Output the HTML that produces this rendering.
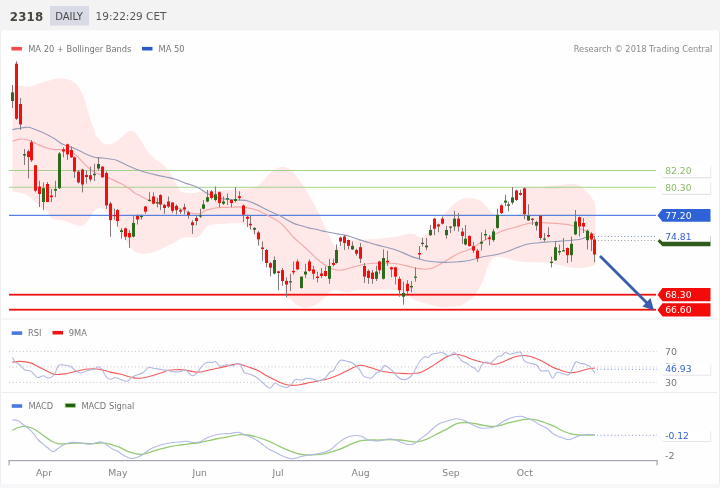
<!DOCTYPE html>
<html><head><meta charset="utf-8"><title>2318 Daily</title>
<style>html,body{margin:0;padding:0;background:#fff;overflow:hidden}svg{display:block;will-change:transform}</style>
</head><body>
<svg width="720" height="488" viewBox="0 0 720 488"><rect x="0" y="0" width="720" height="488" fill="#fefefe"/>
<rect x="0" y="0" width="720" height="30.5" fill="#f3f3f3"/>
<rect x="0" y="30.5" width="1.1" height="457.5" fill="#eeeef0"/>
<rect x="719" y="30.5" width="1" height="457.5" fill="#ececee"/>
<rect x="0" y="484" width="720" height="4" fill="#f7f7f9"/>
<rect x="1.5" y="318.5" width="716" height="1" fill="#ececec"/>
<rect x="1.5" y="392" width="716" height="1" fill="#ececec"/>
<path d="M12.4,86.5 C13.7,86.4 17.2,86 20.2,86 C23.2,86 27.8,86.7 30.5,86.4 C33.2,86.1 33.9,85.2 36.6,84.3 C39.3,83.4 43.5,82.2 46.9,81.3 C50.3,80.3 53.7,78.9 57.1,78.6 C60.5,78.2 64.3,78.4 67.4,79.2 C70.5,80 73.2,81.1 75.6,83.3 C78,85.5 79.8,88.6 81.7,92.5 C83.6,96.4 85.2,102.1 86.8,106.9 C88.3,111.7 89.7,117.4 91,121.2 C92.3,125 93.6,127.6 94.4,130 C95.2,132.4 95.3,134.2 96,135.6 C96.7,137 97.8,137.6 98.7,138.6 C99.6,139.6 100,140.8 101.2,141.7 C102.4,142.6 104.4,143.9 105.9,144.3 C107.4,144.7 108.3,144.4 110,144 C111.7,143.6 113.8,143.2 116,141.8 C118.2,140.4 121.1,137.3 123.1,135.6 C125.1,133.9 126.6,132.6 128,131.8 C129.4,131.1 130.2,131 131.3,131.1 C132.4,131.2 133.2,131.2 134.6,132.3 C136,133.5 137.9,135.7 139.5,138 C141.1,140.3 142.8,143.6 144.4,146.2 C146,148.8 147.7,151.5 149.3,153.6 C151,155.7 152.7,157.1 154.3,158.5 C156,159.9 157.6,160.6 159.2,161.8 C160.8,163 162.7,164.7 164.1,165.9 C165.5,167.1 166.3,167.8 167.4,169.2 C168.5,170.6 169.3,171.9 170.7,174.1 C172.1,176.3 174.2,179.8 175.6,182.3 C177,184.8 177.8,187.3 178.9,188.9 C180,190.5 180.5,191.4 182.1,192.1 C183.7,192.8 186.5,192.8 188.7,193 C190.9,193.2 193.6,193.2 195.2,193 C196.8,192.8 196.3,192.1 198.2,191.8 C200.1,191.5 202.3,191.3 206.4,191 C210.5,190.7 217.3,190.5 222.8,190.2 C228.3,189.9 235.1,189.5 239.2,189.3 C243.3,189.1 244.9,189.3 247.4,189 C249.9,188.7 252.1,188 254,187.4 C255.9,186.8 257.3,186.4 258.9,185.2 C260.5,184 262.2,182.1 263.8,180.3 C265.4,178.5 267.1,176.2 268.7,174.6 C270.3,173 272,171.7 273.6,170.5 C275.2,169.3 276.9,168.3 278.5,167.7 C280.1,167.1 281.3,166.7 282.9,166.8 C284.5,166.9 286.5,167.5 288,168.2 C289.5,168.9 290.2,169 292.1,171 C294,173 297.1,176.9 299.5,180.3 C301.9,183.7 304.4,187.3 306.8,191.3 C309.2,195.3 312.1,200.2 314.2,204.2 C316.3,208.2 317.9,211.2 319.7,215.2 C321.5,219.2 323.3,224.1 325.2,228.1 C327.1,232.1 329.2,236 330.8,239.2 C332.4,242.3 333.5,245.5 334.5,247 C335.5,248.5 336.2,248.1 337,248 C337.8,247.9 338.2,247.3 339,246.5 C339.8,245.7 340.2,244.1 342,243 C343.8,241.9 345.3,240.6 350,240 C354.7,239.4 365,239.5 370,239.2 C375,238.9 376.5,238.7 379.8,238.4 C383.1,238.1 386.4,237.9 389.7,237.5 C393,237.1 396.5,236.5 399.5,235.9 C402.5,235.3 405.2,234.2 407.7,233.9 C410.2,233.6 412.4,233.8 414.3,234.3 C416.2,234.8 417.6,236.4 419.2,236.7 C420.8,237 422.2,237.1 424.1,235.9 C426,234.7 428.8,231.5 430.7,229.3 C432.6,227.1 434,224.7 435.6,222.8 C437.2,220.9 438.9,219.5 440.5,217.9 C442.1,216.3 443.8,214.7 445.4,213 C447,211.3 448.7,209.7 450.3,208 C451.9,206.3 453.6,204.5 455.2,203.1 C456.8,201.7 458.4,200.6 460.2,199.8 C462,199 463.9,198.6 465.8,198.3 C467.7,198 469.4,197.7 471.7,198 C474,198.3 477.2,199.1 479.5,200.3 C481.8,201.5 483.4,203.2 485.3,205.2 C487.2,207.1 489.5,210.4 491.1,212 C492.7,213.6 493.5,213.9 495,214.5 C496.5,215.1 496.7,215.3 500,215.5 C503.3,215.7 511.7,216.1 515,215.5 C518.3,214.9 518.8,216.2 520,212 C521.2,207.8 521.2,194.1 522,190 C522.8,185.9 522,188 525,187.5 C528,187 535.4,187.2 540,186.9 C544.6,186.6 548.3,186 552.5,185.6 C556.7,185.2 561.9,184.7 565,184.4 C568.1,184.1 569.2,183.7 571.3,183.8 C573.4,183.9 575.6,184.2 577.5,184.8 C579.4,185.4 580.8,186.2 582.5,187.5 C584.2,188.8 586,190.9 587.5,192.5 C589,194.1 590,195 591.3,196.9 C592.5,198.8 594.3,201.6 595,203.8 C595.7,206 595.5,209 595.6,210 L595.6,262 C595.4,262.6 596.5,264.6 594.4,265.6 C592.3,266.6 587,267.4 583.3,267.8 C579.6,268.2 575.9,268.2 572.2,267.8 C568.5,267.4 564.8,266.4 561.1,265.6 C557.4,264.8 553.7,263.6 550,263 C546.3,262.4 542.6,262.3 538.9,262.2 C535.2,262.1 531.5,262.4 527.8,262.2 C524.1,262 520.4,261.8 516.7,261.1 C513,260.4 508.9,258.5 505.6,257.8 C502.3,257.1 498.9,256.5 496.7,256.7 C494.5,256.9 493.7,257.2 492.2,258.9 C490.7,260.6 489.3,263.2 487.8,266.7 C486.3,270.2 484.8,276.3 483.3,280 C481.8,283.7 480.8,285.9 478.9,288.9 C477,291.9 474.8,295.2 472.2,297.8 C469.6,300.4 465.3,303 463.3,304.4 C461.3,305.8 462.2,305.6 460,306 C457.8,306.4 452.8,306.4 450,306.7 C447.2,306.9 446.4,307.8 443.3,307.5 C440.2,307.2 436.4,306.2 431.7,305 C427,303.8 419.2,301.7 415,300 C410.8,298.3 409.5,296.5 406.7,295 C403.9,293.5 400.8,291.9 398,291 C395.2,290.1 394.1,289.9 390,289.7 C385.9,289.5 378.9,289.9 373.3,290 C367.8,290.1 360.6,289.7 356.7,290 C352.8,290.3 352.1,291.7 350,292 C347.9,292.3 345.7,292.2 343.8,292 C341.9,291.8 340.5,291.1 338.9,290.8 C337.3,290.5 335.6,289.7 334,290.1 C332.4,290.5 330.6,291.9 329,293.2 C327.4,294.5 325.7,296.6 324.1,298.1 C322.5,299.6 320.8,301.2 319.2,302.4 C317.6,303.6 316.1,304.7 314.3,305.5 C312.5,306.3 310.2,307.1 308.1,307.4 C306.1,307.7 304.1,307.9 302,307.4 C299.9,306.9 297.7,305.6 295.8,304.3 C293.9,303 292.5,300.8 290.9,299.4 C289.3,298 287.5,299.9 286,295.7 C284.5,291.5 283.7,277.9 282,274 C280.3,270.1 277.7,272.5 276,272 C274.3,271.5 273.1,271.7 272,271 C270.9,270.3 270.3,269.6 269.2,268 C268.1,266.4 266.5,264 265.5,261.7 C264.5,259.4 263.8,256.9 263,254.4 C262.2,252 261.6,249.5 260.6,247 C259.6,244.5 258.1,241.8 256.9,239.6 C255.7,237.3 254.4,235.3 253.2,233.5 C252,231.7 250.7,229.8 249.5,228.5 C248.3,227.2 247.2,226.3 245.8,225.5 C244.4,224.7 242.5,224 240.9,223.6 C239.3,223.2 237.5,223.1 236,223 C234.5,222.9 233.8,223.2 231.7,223.3 C229.6,223.4 226.1,223.7 223.3,223.8 C220.5,224 217.1,224 215,224.2 C212.9,224.4 212.2,224.6 210.8,225 C209.4,225.4 208.1,225.4 206.7,226.7 C205.3,227.9 203.9,230.8 202.5,232.5 C201.1,234.2 199.8,236.2 198,237 C196.2,237.8 193.8,237.2 191.8,237.3 C189.8,237.4 188,237.4 186.1,237.6 C184.2,237.8 182.2,237.9 180.3,238.7 C178.4,239.5 176.5,241.2 174.6,242.3 C172.7,243.4 170.8,244.2 168.9,245.2 C167,246.1 164.9,247.1 163.1,248 C161.3,248.9 159.7,249.8 158,250.5 C156.3,251.2 154.7,252 153,252.5 C151.3,253 149.7,253.3 148,253.6 C146.3,253.8 144.7,254.1 143,254 C141.3,253.9 139.8,253.8 138,253 C136.2,252.2 133.9,251.3 131.9,249.2 C129.9,247.1 127.8,243.6 125.8,240.6 C123.8,237.6 121.9,234.1 120,231 C118.1,227.9 116,224.4 114.3,222 C112.6,219.6 111.2,218.1 110,216.5 C108.8,214.9 108.1,213.8 107,212.6 C105.9,211.4 104.7,210.1 103.5,209.3 C102.3,208.5 101.2,208 100,207.9 C98.8,207.8 97.7,208.3 96.5,209 C95.3,209.7 94.1,210.9 93,212.3 C91.9,213.7 91.1,215.5 89.9,217.4 C88.7,219.3 87.5,222.1 85.8,223.5 C84.1,224.9 82.1,226 79.7,226 C77.3,226 74.2,224.4 71.5,223.5 C68.8,222.6 66,221.2 63.3,220.5 C60.5,219.8 57,219.9 55,219.4 C53,218.9 52.4,218.9 51,217.4 C49.6,215.9 48.6,211.9 46.9,210.2 C45.2,208.5 42.8,208.6 40.7,207.1 C38.7,205.6 36.7,202.9 34.6,201 C32.5,199.1 30.8,197.3 28.4,195.9 C26,194.5 22.9,193.5 20.2,192.8 C17.5,192.1 13.7,192 12.4,191.8 Z" fill="#ffe8e8"/>
<rect x="9" y="170" width="647" height="1" fill="#a6d38a"/>
<rect x="9" y="186.8" width="647" height="1" fill="#a6d38a"/>
<rect x="9" y="214.8" width="647" height="1.1" fill="#4474df"/>
<rect x="9" y="293.8" width="647" height="1.8" fill="#f01010"/>
<rect x="9" y="308.8" width="647" height="1.8" fill="#f01010"/>
<path d="M12.5,141.2 C13.7,140.8 17.7,139.4 19.7,139.1 C21.7,138.8 22.5,138.9 24.6,139.3 C26.7,139.7 29.9,140.7 32.3,141.7 C34.7,142.7 36.4,144 39.1,145.1 C41.9,146.2 46.4,147.8 48.8,148.5 C51.2,149.2 51.8,149.3 53.7,149.5 C55.7,149.7 58.7,149.4 60.5,149.5 C62.3,149.6 63.1,149.8 64.4,150 C65.8,150.2 66.9,150.2 68.6,150.8 C70.2,151.4 72.1,152 74.3,153.7 C76.5,155.4 79.1,158.4 81.5,160.8 C83.9,163.2 86.3,166 88.7,168 C91.1,170 93.5,171.8 95.9,173 C98.3,174.2 100.6,174.5 103,175.4 C105.4,176.3 107.3,177.3 110.2,178.6 C113.1,179.9 117.2,181.7 120.3,183.3 C123.4,184.9 126.2,186.6 128.6,188.2 C131,189.8 132.7,191.8 134.6,193 C136.5,194.2 137.8,194.5 140.2,195.7 C142.6,196.9 145.9,199.1 148.8,200.3 C151.7,201.6 154.1,202.2 157.4,203.2 C160.7,204.1 165,205.1 168.8,206 C172.6,206.9 176.5,207.7 180.3,208.9 C184.1,210.1 188.6,212.4 191.8,213.2 C195.1,214 197.4,214 199.8,213.5 C202.2,213 204.6,210.7 206.4,210 C208.2,209.3 209.4,209.5 210.8,209.2 C212.2,208.9 213,208.3 215,208 C217,207.7 220.1,207.5 222.8,207.4 C225.5,207.3 228.3,207.4 231,207.3 C233.7,207.2 236.5,206.8 239.2,206.9 C241.9,207 244.7,207.4 247.4,207.9 C250.1,208.4 252.9,208.8 255.6,209.7 C258.3,210.6 261.6,212.1 263.8,213.2 C266,214.2 266.4,214.6 268.8,216 C271.2,217.4 275.8,219.5 278.5,221.4 C281.2,223.3 283.9,226.3 285.3,227.7 C286.8,229.1 285.7,228.3 287.2,230 C288.7,231.7 291.9,235.6 294.3,238 C296.7,240.4 299.1,242.2 301.5,244.4 C303.9,246.6 306.3,248.6 308.7,250.9 C311.1,253.2 313.5,255.8 315.9,258 C318.3,260.1 320.9,262.2 323,263.8 C325.1,265.4 326.9,266.4 328.8,267.4 C330.7,268.3 332.6,269 334.5,269.5 C336.4,270 338.2,270.3 340.3,270.2 C342.4,270.1 345,269.4 347.4,268.8 C349.8,268.2 352.5,267.2 354.6,266.6 C356.7,266 356.9,265.8 360,265.2 C363.1,264.6 368.3,263.6 373.3,263.3 C378.3,263 385.6,263.1 390,263.3 C394.4,263.5 396.7,263.8 400,264.3 C403.3,264.9 406.9,265.9 409.7,266.6 C412.4,267.3 414.1,267.9 416.5,268.3 C418.9,268.7 421.6,269.2 424,269.2 C426.4,269.2 428.5,269.2 431,268.5 C433.5,267.8 435.9,266.6 438.8,265.1 C441.7,263.6 445.2,261.2 448.5,259.3 C451.8,257.4 454.7,255.1 458.3,253.4 C461.9,251.7 466.4,250.7 470,249 C473.6,247.3 476.2,245.3 480,243 C483.8,240.7 488.8,237.5 493,235.3 C497.2,233.1 501.3,231.3 505,230 C508.7,228.7 512.1,228.3 515,227.5 C517.9,226.7 520,225.7 522.5,225 C525,224.3 527.1,223.5 530,223.1 C532.9,222.7 536.7,222.5 540,222.5 C543.3,222.5 546.7,222.9 550,223.1 C553.3,223.3 556.7,223.5 560,223.8 C563.3,224.1 567.1,224.4 570,225 C572.9,225.6 575,226.6 577.5,227.5 C580,228.4 582.5,229.5 585,230.6 C587.5,231.7 590.8,233.2 592.5,233.8 C594.2,234.5 594.6,234.4 595,234.5" fill="none" stroke="#f6a9a9" stroke-width="1.15"/>
<path d="M12.4,129.6 C13.7,129.4 17.7,128.6 20,128.2 C22.3,127.8 24.3,127.5 26,127.4 C27.7,127.3 27.8,126.9 30,127.5 C32.2,128.1 36,129.7 39.1,131 C42.2,132.3 45.9,133.9 48.8,135.4 C51.7,136.9 54.2,138.7 56.6,140.2 C59,141.7 60.8,143.4 63.4,144.6 C66,145.8 69.3,146.4 72.1,147.5 C74.9,148.6 77.7,149.9 80,151 C82.3,152.1 83.4,153 85.8,154 C88.2,155 91.5,156.5 94.4,157.2 C97.3,157.9 100.4,157.7 103,158 C105.6,158.3 107.7,158.6 110,159 C112.3,159.4 113.9,159.2 116.6,160.2 C119.3,161.2 123.1,163.5 126.4,165 C129.7,166.5 132.9,167.9 136.2,169.2 C139.5,170.4 142.8,171.6 146.1,172.5 C149.4,173.4 152.6,174.2 155.9,174.9 C159.2,175.7 162.4,176.3 165.7,177 C169,177.7 172.3,178.3 175.6,179.3 C178.9,180.3 183,182.2 185.4,183.1 C187.8,184 187.9,183.7 190,184.5 C192.1,185.3 195.5,186.3 198.2,187.7 C200.9,189.1 203.7,191.5 206.4,193 C209.1,194.5 211.9,195.7 214.6,196.7 C217.3,197.7 220.1,198.4 222.8,198.9 C225.5,199.4 228.3,199.3 231,199.5 C233.7,199.7 236.5,199.8 239.2,200 C241.9,200.2 244.7,200.1 247.4,200.8 C250.1,201.5 252.9,202.9 255.6,204.1 C258.3,205.3 261.1,206.8 263.8,208.2 C266.5,209.6 269.3,211 272,212.3 C274.7,213.6 277.7,214.5 280.2,215.8 C282.7,217.1 284.8,218.7 287.2,220 C289.6,221.3 291.9,222.6 294.3,223.6 C296.7,224.6 299.1,225.1 301.5,225.8 C303.9,226.5 306.3,227.3 308.7,227.9 C311.1,228.5 313.5,228.8 315.9,229.3 C318.3,229.8 320.6,230.6 323,231.1 C325.4,231.6 327.8,232 330.2,232.5 C332.6,233 335,233.5 337.4,233.9 C339.8,234.3 342.6,234.7 344.6,235.1 C346.6,235.5 347,235.4 349.4,236.2 C351.8,236.9 355.9,238.5 359.1,239.6 C362.3,240.7 365.6,241.5 368.8,242.5 C372,243.5 375.2,244.5 378.5,245.4 C381.8,246.3 385.1,246.9 388.3,247.8 C391.6,248.7 394.5,249.4 398,250.7 C401.5,252 405.8,254.2 409.3,255.6 C412.8,257 415.9,257.9 419.2,258.9 C422.5,259.8 425.7,260.8 429,261.3 C432.3,261.8 435.6,261.9 438.9,262.1 C442.2,262.3 445.4,262.4 448.7,262.3 C452,262.2 454.9,262.2 458.5,261.8 C462.1,261.4 465.9,261.1 470,260.2 C474.1,259.3 478.9,257.6 483,256.7 C487.1,255.8 490.7,255.7 494.4,255 C498.1,254.3 501.3,253.5 505,252.3 C508.7,251.1 512.9,249.2 516.7,247.8 C520.5,246.4 524.1,244.8 527.8,244 C531.5,243.2 535.2,243.1 538.9,242.7 C542.6,242.3 546.3,242.1 550,241.8 C553.7,241.5 556.3,241.5 561.1,241.1 C565.9,240.7 574.8,240.1 578.9,239.5 C583,238.9 583.3,237.8 586,237.3 C588.7,236.8 593.5,236.7 595,236.6" fill="none" stroke="#959db9" stroke-width="1.15"/>
<rect x="12" y="85" width="1" height="23" fill="#857878"/>
<rect x="11" y="92.4" width="3" height="8.6" fill="#2c6a1e"/>
<rect x="16" y="61.3" width="1" height="58.7" fill="#857878"/>
<rect x="15" y="63.7" width="3" height="55" fill="#ee1010"/>
<rect x="20" y="98" width="1" height="32" fill="#857878"/>
<rect x="19" y="104" width="3" height="20.4" fill="#ee1010"/>
<rect x="24" y="149" width="1" height="16" fill="#857878"/>
<rect x="23" y="154" width="3" height="1.5" fill="#2c6a1e"/>
<rect x="28" y="149.7" width="1" height="28.7" fill="#857878"/>
<rect x="27" y="151.3" width="3" height="5.7" fill="#ee1010"/>
<rect x="31" y="140" width="1" height="22" fill="#857878"/>
<rect x="30" y="142.3" width="3" height="18" fill="#ee1010"/>
<rect x="35" y="165" width="1" height="27.3" fill="#857878"/>
<rect x="34" y="165.2" width="3" height="25.5" fill="#ee1010"/>
<rect x="39" y="180.8" width="1" height="26.2" fill="#857878"/>
<rect x="38" y="186.6" width="3" height="7.4" fill="#ee1010"/>
<rect x="43" y="182.5" width="1" height="27.5" fill="#857878"/>
<rect x="42" y="188.2" width="3" height="13.8" fill="#2c6a1e"/>
<rect x="47" y="182" width="1" height="20" fill="#857878"/>
<rect x="46" y="184" width="3" height="18" fill="#ee1010"/>
<rect x="51" y="189" width="1" height="13" fill="#857878"/>
<rect x="50" y="195.6" width="3" height="1.6" fill="#ee1010"/>
<rect x="55" y="180.8" width="1" height="16.4" fill="#857878"/>
<rect x="54" y="189" width="3" height="1.7" fill="#2c6a1e"/>
<rect x="59" y="152" width="1" height="37" fill="#857878"/>
<rect x="58" y="153.5" width="3" height="34.7" fill="#2c6a1e"/>
<rect x="63" y="147.2" width="1" height="10.1" fill="#857878"/>
<rect x="62" y="149.4" width="3" height="2.1" fill="#ee1010"/>
<rect x="67" y="143.6" width="1" height="16.5" fill="#857878"/>
<rect x="66" y="144.3" width="3" height="10.1" fill="#ee1010"/>
<rect x="71" y="146.5" width="1" height="11.5" fill="#857878"/>
<rect x="70" y="150" width="3" height="7.3" fill="#ee1010"/>
<rect x="74" y="156.5" width="1" height="21.5" fill="#857878"/>
<rect x="73" y="157.3" width="3" height="14.3" fill="#ee1010"/>
<rect x="78" y="170" width="1" height="13.5" fill="#857878"/>
<rect x="77" y="171.6" width="3" height="10.8" fill="#ee1010"/>
<rect x="82" y="168.7" width="1" height="23.7" fill="#857878"/>
<rect x="81" y="169.5" width="3" height="15" fill="#ee1010"/>
<rect x="86" y="170.5" width="1" height="13" fill="#857878"/>
<rect x="85" y="175" width="3" height="2" fill="#ee1010"/>
<rect x="90" y="166.6" width="1" height="15" fill="#857878"/>
<rect x="89" y="175.2" width="3" height="4.3" fill="#ee1010"/>
<rect x="94" y="163.7" width="1" height="17.3" fill="#857878"/>
<rect x="93" y="173.8" width="3" height="1.4" fill="#2c6a1e"/>
<rect x="98" y="157" width="1" height="13.5" fill="#857878"/>
<rect x="97" y="164" width="3" height="4.5" fill="#2c6a1e"/>
<rect x="102" y="166.2" width="1" height="11.5" fill="#857878"/>
<rect x="101" y="166.6" width="3" height="10.7" fill="#ee1010"/>
<rect x="106" y="171.2" width="1" height="37.8" fill="#857878"/>
<rect x="105" y="173" width="3" height="32.4" fill="#ee1010"/>
<rect x="110" y="201.7" width="1" height="35" fill="#857878"/>
<rect x="109" y="203.5" width="3" height="16.6" fill="#ee1010"/>
<rect x="114" y="208.6" width="1" height="11.1" fill="#857878"/>
<rect x="113" y="215" width="3" height="1.2" fill="#ee1010"/>
<rect x="117" y="209" width="1" height="17.6" fill="#857878"/>
<rect x="116" y="210" width="3" height="11" fill="#ee1010"/>
<rect x="121" y="228" width="1" height="10.6" fill="#857878"/>
<rect x="120" y="230.3" width="3" height="1.7" fill="#2c6a1e"/>
<rect x="125" y="227.5" width="1" height="12.5" fill="#857878"/>
<rect x="124" y="228.4" width="3" height="8.3" fill="#ee1010"/>
<rect x="129" y="230.2" width="1" height="17.8" fill="#857878"/>
<rect x="128" y="233" width="3" height="4.4" fill="#ee1010"/>
<rect x="133" y="215" width="1" height="22.4" fill="#857878"/>
<rect x="132" y="223" width="3" height="13.7" fill="#2c6a1e"/>
<rect x="137" y="214.4" width="1" height="10.1" fill="#857878"/>
<rect x="136" y="215.9" width="3" height="3.6" fill="#ee1010"/>
<rect x="141" y="214.4" width="1" height="5.1" fill="#857878"/>
<rect x="140" y="215.9" width="3" height="1.2" fill="#2c6a1e"/>
<rect x="145" y="205.8" width="1" height="7.9" fill="#857878"/>
<rect x="144" y="206.5" width="3" height="5.1" fill="#ee1010"/>
<rect x="149" y="192.2" width="1" height="9.3" fill="#857878"/>
<rect x="148" y="199.8" width="3" height="1.2" fill="#2c6a1e"/>
<rect x="153" y="192.2" width="1" height="12.2" fill="#857878"/>
<rect x="152" y="196.5" width="3" height="7.2" fill="#ee1010"/>
<rect x="157" y="198" width="1" height="9.3" fill="#857878"/>
<rect x="156" y="202.2" width="3" height="1.2" fill="#2c6a1e"/>
<rect x="160" y="194.3" width="1" height="15.8" fill="#857878"/>
<rect x="159" y="195" width="3" height="9.4" fill="#ee1010"/>
<rect x="164" y="203.7" width="1" height="10" fill="#857878"/>
<rect x="163" y="205.1" width="3" height="2.9" fill="#ee1010"/>
<rect x="168" y="196.5" width="1" height="11.5" fill="#857878"/>
<rect x="167" y="201.5" width="3" height="5" fill="#ee1010"/>
<rect x="172" y="202.2" width="1" height="10.8" fill="#857878"/>
<rect x="171" y="202.5" width="3" height="8.3" fill="#ee1010"/>
<rect x="176" y="204.4" width="1" height="10" fill="#857878"/>
<rect x="175" y="205.8" width="3" height="4.3" fill="#ee1010"/>
<rect x="180" y="208.7" width="1" height="5" fill="#857878"/>
<rect x="179" y="210.1" width="3" height="1.5" fill="#ee1010"/>
<rect x="184" y="203.7" width="1" height="10.7" fill="#857878"/>
<rect x="183" y="207.3" width="3" height="2.1" fill="#ee1010"/>
<rect x="188" y="210.8" width="1" height="7.9" fill="#857878"/>
<rect x="187" y="212.3" width="3" height="2.9" fill="#ee1010"/>
<rect x="192" y="220.2" width="1" height="13.6" fill="#857878"/>
<rect x="191" y="222.3" width="3" height="2.9" fill="#ee1010"/>
<rect x="196" y="215.8" width="1" height="9.4" fill="#857878"/>
<rect x="195" y="218" width="3" height="3" fill="#ee1010"/>
<rect x="200" y="208.7" width="1" height="9.3" fill="#857878"/>
<rect x="199" y="215.2" width="3" height="1.4" fill="#2c6a1e"/>
<rect x="203" y="200" width="1" height="9.4" fill="#857878"/>
<rect x="202" y="204.4" width="3" height="4.3" fill="#2c6a1e"/>
<rect x="207" y="190" width="1" height="12.2" fill="#857878"/>
<rect x="206" y="197.2" width="3" height="4.3" fill="#2c6a1e"/>
<rect x="211" y="190" width="1" height="9.4" fill="#857878"/>
<rect x="210" y="191.5" width="3" height="6.5" fill="#ee1010"/>
<rect x="215" y="186.5" width="1" height="15" fill="#857878"/>
<rect x="214" y="194.3" width="3" height="5.7" fill="#2c6a1e"/>
<rect x="219" y="191.5" width="1" height="15.8" fill="#857878"/>
<rect x="218" y="192.2" width="3" height="10.8" fill="#ee1010"/>
<rect x="223" y="196.5" width="1" height="8.5" fill="#857878"/>
<rect x="222" y="201.5" width="3" height="2.2" fill="#2c6a1e"/>
<rect x="227" y="193.6" width="1" height="11.4" fill="#857878"/>
<rect x="226" y="198.2" width="3" height="1.2" fill="#2c6a1e"/>
<rect x="231" y="199.3" width="1" height="8" fill="#857878"/>
<rect x="230" y="200" width="3" height="3" fill="#ee1010"/>
<rect x="235" y="187.2" width="1" height="15.2" fill="#857878"/>
<rect x="234" y="199" width="3" height="2" fill="#2c6a1e"/>
<rect x="239" y="191.3" width="1" height="9.2" fill="#857878"/>
<rect x="238" y="196.2" width="3" height="1.9" fill="#ee1010"/>
<rect x="243" y="204.5" width="1" height="17.5" fill="#857878"/>
<rect x="242" y="205.5" width="3" height="9.2" fill="#ee1010"/>
<rect x="247" y="214.7" width="1" height="12.3" fill="#857878"/>
<rect x="246" y="216.8" width="3" height="2" fill="#ee1010"/>
<rect x="250" y="216" width="1" height="13.5" fill="#857878"/>
<rect x="249" y="223.8" width="3" height="1.5" fill="#ee1010"/>
<rect x="254" y="227" width="1" height="7.2" fill="#857878"/>
<rect x="253" y="228" width="3" height="1.7" fill="#2c6a1e"/>
<rect x="258" y="231.1" width="1" height="14.4" fill="#857878"/>
<rect x="257" y="232.5" width="3" height="6.8" fill="#ee1010"/>
<rect x="262" y="241.5" width="1" height="19.3" fill="#857878"/>
<rect x="261" y="247.5" width="3" height="1.5" fill="#ee1010"/>
<rect x="266" y="249" width="1" height="18.3" fill="#857878"/>
<rect x="265" y="250" width="3" height="13" fill="#ee1010"/>
<rect x="270" y="261.8" width="1" height="14.6" fill="#857878"/>
<rect x="269" y="263.2" width="3" height="4.4" fill="#ee1010"/>
<rect x="274" y="256.5" width="1" height="17.8" fill="#857878"/>
<rect x="273" y="260" width="3" height="13.5" fill="#2c6a1e"/>
<rect x="278" y="270.9" width="1" height="19.3" fill="#857878"/>
<rect x="277" y="271.4" width="3" height="1.6" fill="#ee1010"/>
<rect x="282" y="268" width="1" height="17.7" fill="#857878"/>
<rect x="281" y="270.1" width="3" height="10.9" fill="#ee1010"/>
<rect x="286" y="277.3" width="1" height="20.1" fill="#857878"/>
<rect x="285" y="280.9" width="3" height="3.6" fill="#ee1010"/>
<rect x="290" y="273.7" width="1" height="17.3" fill="#857878"/>
<rect x="289" y="281.2" width="3" height="1.2" fill="#2c6a1e"/>
<rect x="293" y="261.5" width="1" height="13" fill="#857878"/>
<rect x="292" y="270.9" width="3" height="1.4" fill="#ee1010"/>
<rect x="297" y="259.4" width="1" height="10.8" fill="#857878"/>
<rect x="296" y="261.5" width="3" height="7.9" fill="#ee1010"/>
<rect x="301" y="276.6" width="1" height="12" fill="#857878"/>
<rect x="300" y="276.6" width="3" height="11.4" fill="#2c6a1e"/>
<rect x="305" y="263.7" width="1" height="14.3" fill="#857878"/>
<rect x="304" y="271.6" width="3" height="2.9" fill="#2c6a1e"/>
<rect x="309" y="259.4" width="1" height="12.2" fill="#857878"/>
<rect x="308" y="261.5" width="3" height="9.4" fill="#ee1010"/>
<rect x="313" y="265.8" width="1" height="13.7" fill="#857878"/>
<rect x="312" y="269.4" width="3" height="4.3" fill="#ee1010"/>
<rect x="317" y="271.6" width="1" height="10.8" fill="#857878"/>
<rect x="316" y="276.6" width="3" height="1.4" fill="#ee1010"/>
<rect x="321" y="268" width="1" height="10" fill="#857878"/>
<rect x="320" y="273.5" width="3" height="2.5" fill="#ee1010"/>
<rect x="325" y="266.6" width="1" height="10" fill="#857878"/>
<rect x="324" y="271" width="3" height="5" fill="#ee1010"/>
<rect x="329" y="258.7" width="1" height="25.1" fill="#857878"/>
<rect x="328" y="266" width="3" height="12.8" fill="#2c6a1e"/>
<rect x="333" y="258.7" width="1" height="7.9" fill="#857878"/>
<rect x="332" y="263" width="3" height="1.9" fill="#ee1010"/>
<rect x="336" y="244.4" width="1" height="19.3" fill="#857878"/>
<rect x="335" y="250" width="3" height="13" fill="#2c6a1e"/>
<rect x="340" y="236.5" width="1" height="9.3" fill="#857878"/>
<rect x="339" y="237.6" width="3" height="3.9" fill="#ee1010"/>
<rect x="344" y="235" width="1" height="15" fill="#857878"/>
<rect x="343" y="236.5" width="3" height="6.5" fill="#ee1010"/>
<rect x="348" y="239.5" width="1" height="9.9" fill="#857878"/>
<rect x="347" y="240" width="3" height="5.8" fill="#ee1010"/>
<rect x="352" y="241.5" width="1" height="8.5" fill="#857878"/>
<rect x="351" y="245.8" width="3" height="3.6" fill="#2c6a1e"/>
<rect x="356" y="248.7" width="1" height="7.1" fill="#857878"/>
<rect x="355" y="250" width="3" height="3.7" fill="#ee1010"/>
<rect x="360" y="243" width="1" height="20" fill="#857878"/>
<rect x="359" y="247.2" width="3" height="11.5" fill="#ee1010"/>
<rect x="364" y="263" width="1" height="20" fill="#857878"/>
<rect x="363" y="266" width="3" height="10.6" fill="#ee1010"/>
<rect x="368" y="269.4" width="1" height="14.4" fill="#857878"/>
<rect x="367" y="270.9" width="3" height="7.1" fill="#ee1010"/>
<rect x="372" y="270.2" width="1" height="13.6" fill="#857878"/>
<rect x="371" y="272.6" width="3" height="6.4" fill="#ee1010"/>
<rect x="376" y="265.8" width="1" height="15.2" fill="#857878"/>
<rect x="375" y="271.6" width="3" height="7.2" fill="#2c6a1e"/>
<rect x="379" y="260.8" width="1" height="12.9" fill="#857878"/>
<rect x="378" y="261.5" width="3" height="8.7" fill="#ee1010"/>
<rect x="383" y="249.3" width="1" height="30.2" fill="#857878"/>
<rect x="382" y="258" width="3" height="20.8" fill="#2c6a1e"/>
<rect x="387" y="250.8" width="1" height="15" fill="#857878"/>
<rect x="386" y="260.8" width="3" height="1.5" fill="#ee1010"/>
<rect x="391" y="266.6" width="1" height="10.7" fill="#857878"/>
<rect x="390" y="267.3" width="3" height="2.1" fill="#ee1010"/>
<rect x="395" y="266.6" width="1" height="17.9" fill="#857878"/>
<rect x="394" y="267.3" width="3" height="9.3" fill="#ee1010"/>
<rect x="399" y="276.6" width="1" height="20.1" fill="#857878"/>
<rect x="398" y="278.8" width="3" height="11.4" fill="#ee1010"/>
<rect x="403" y="281.6" width="1" height="23" fill="#857878"/>
<rect x="402" y="293" width="3" height="3.7" fill="#2c6a1e"/>
<rect x="407" y="280.2" width="1" height="13.6" fill="#857878"/>
<rect x="406" y="283.8" width="3" height="7.2" fill="#ee1010"/>
<rect x="411" y="281" width="1" height="11.4" fill="#857878"/>
<rect x="410" y="286" width="3" height="1.4" fill="#2c6a1e"/>
<rect x="415" y="267.3" width="1" height="14.3" fill="#857878"/>
<rect x="414" y="276.6" width="3" height="1.2" fill="#2c6a1e"/>
<rect x="419" y="246" width="1" height="13" fill="#857878"/>
<rect x="418" y="253" width="3" height="1.5" fill="#ee1010"/>
<rect x="422" y="238" width="1" height="8.6" fill="#857878"/>
<rect x="421" y="242.8" width="3" height="1.2" fill="#2c6a1e"/>
<rect x="426" y="238" width="1" height="12.2" fill="#857878"/>
<rect x="425" y="245.6" width="3" height="1.7" fill="#2c6a1e"/>
<rect x="430" y="225" width="1" height="10.9" fill="#857878"/>
<rect x="429" y="230" width="3" height="5.2" fill="#2c6a1e"/>
<rect x="434" y="218" width="1" height="17.2" fill="#857878"/>
<rect x="433" y="218.7" width="3" height="10" fill="#ee1010"/>
<rect x="438" y="223.7" width="1" height="8.6" fill="#857878"/>
<rect x="437" y="224.4" width="3" height="2.1" fill="#ee1010"/>
<rect x="442" y="216.5" width="1" height="7.9" fill="#857878"/>
<rect x="441" y="218.7" width="3" height="5" fill="#ee1010"/>
<rect x="446" y="225.8" width="1" height="12.9" fill="#857878"/>
<rect x="445" y="230" width="3" height="5.2" fill="#2c6a1e"/>
<rect x="450" y="226.5" width="1" height="6.5" fill="#857878"/>
<rect x="449" y="226.5" width="3" height="1.2" fill="#2c6a1e"/>
<rect x="454" y="210.8" width="1" height="20" fill="#857878"/>
<rect x="453" y="218.7" width="3" height="7.8" fill="#2c6a1e"/>
<rect x="458" y="213" width="1" height="18.6" fill="#857878"/>
<rect x="457" y="218.7" width="3" height="7.8" fill="#ee1010"/>
<rect x="462" y="228" width="1" height="15.8" fill="#857878"/>
<rect x="461" y="231.6" width="3" height="4.3" fill="#ee1010"/>
<rect x="465" y="225" width="1" height="20.2" fill="#857878"/>
<rect x="464" y="238.7" width="3" height="5.8" fill="#2c6a1e"/>
<rect x="469" y="235.5" width="1" height="11.1" fill="#857878"/>
<rect x="468" y="235.9" width="3" height="10.1" fill="#ee1010"/>
<rect x="473" y="242" width="1" height="11" fill="#857878"/>
<rect x="472" y="246.2" width="3" height="4.4" fill="#ee1010"/>
<rect x="477" y="248.8" width="1" height="13.1" fill="#857878"/>
<rect x="476" y="250.6" width="3" height="7.8" fill="#ee1010"/>
<rect x="481" y="232.3" width="1" height="18.3" fill="#857878"/>
<rect x="480" y="241.8" width="3" height="1.8" fill="#2c6a1e"/>
<rect x="485" y="229.7" width="1" height="10.3" fill="#857878"/>
<rect x="484" y="234" width="3" height="1.4" fill="#2c6a1e"/>
<rect x="489" y="234.9" width="1" height="10.4" fill="#857878"/>
<rect x="488" y="237.5" width="3" height="1.7" fill="#ee1010"/>
<rect x="493" y="228.8" width="1" height="13" fill="#857878"/>
<rect x="492" y="231.4" width="3" height="8.7" fill="#2c6a1e"/>
<rect x="497" y="208.7" width="1" height="20.1" fill="#857878"/>
<rect x="496" y="214.8" width="3" height="13.1" fill="#2c6a1e"/>
<rect x="501" y="204.4" width="1" height="9.6" fill="#857878"/>
<rect x="500" y="205.3" width="3" height="7.8" fill="#ee1010"/>
<rect x="505" y="194.8" width="1" height="11.3" fill="#857878"/>
<rect x="504" y="200.6" width="3" height="2" fill="#2c6a1e"/>
<rect x="508" y="201.8" width="1" height="9.6" fill="#857878"/>
<rect x="507" y="204.4" width="3" height="1.4" fill="#2c6a1e"/>
<rect x="512" y="187" width="1" height="17.4" fill="#857878"/>
<rect x="511" y="197.4" width="3" height="5.2" fill="#2c6a1e"/>
<rect x="516" y="189.6" width="1" height="11.3" fill="#857878"/>
<rect x="515" y="190.5" width="3" height="9.5" fill="#ee1010"/>
<rect x="520" y="189.6" width="1" height="6.1" fill="#857878"/>
<rect x="519" y="193" width="3" height="1.8" fill="#ee1010"/>
<rect x="524" y="187.5" width="1" height="31.8" fill="#857878"/>
<rect x="523" y="188.4" width="3" height="25.8" fill="#ee1010"/>
<rect x="528" y="204.3" width="1" height="16.5" fill="#857878"/>
<rect x="527" y="215.8" width="3" height="4.7" fill="#2c6a1e"/>
<rect x="532" y="218" width="1" height="7" fill="#857878"/>
<rect x="531" y="218.7" width="3" height="1.3" fill="#ee1010"/>
<rect x="536" y="220.8" width="1" height="9.7" fill="#857878"/>
<rect x="535" y="222" width="3" height="3.7" fill="#2c6a1e"/>
<rect x="540" y="215" width="1" height="25.2" fill="#857878"/>
<rect x="539" y="215.8" width="3" height="22.2" fill="#ee1010"/>
<rect x="544" y="233" width="1" height="8.6" fill="#857878"/>
<rect x="543" y="238.5" width="3" height="1.2" fill="#2c6a1e"/>
<rect x="548" y="227.3" width="1" height="10" fill="#857878"/>
<rect x="547" y="235" width="3" height="1.6" fill="#ee1010"/>
<rect x="551" y="256.7" width="1" height="10.7" fill="#857878"/>
<rect x="550" y="261.7" width="3" height="1.3" fill="#2c6a1e"/>
<rect x="555" y="241" width="1" height="20" fill="#857878"/>
<rect x="554" y="247.3" width="3" height="13" fill="#2c6a1e"/>
<rect x="559" y="244.5" width="1" height="10.7" fill="#857878"/>
<rect x="558" y="251" width="3" height="1.4" fill="#2c6a1e"/>
<rect x="563" y="238" width="1" height="13.6" fill="#857878"/>
<rect x="562" y="250.2" width="3" height="1.2" fill="#2c6a1e"/>
<rect x="567" y="247.5" width="1" height="15.5" fill="#857878"/>
<rect x="566" y="248" width="3" height="7.2" fill="#ee1010"/>
<rect x="571" y="236.6" width="1" height="25.1" fill="#857878"/>
<rect x="570" y="243.8" width="3" height="11.4" fill="#2c6a1e"/>
<rect x="575" y="210" width="1" height="25.2" fill="#857878"/>
<rect x="574" y="221.5" width="3" height="12.9" fill="#2c6a1e"/>
<rect x="579" y="216.5" width="1" height="20.1" fill="#857878"/>
<rect x="578" y="217.2" width="3" height="9.3" fill="#ee1010"/>
<rect x="583" y="218" width="1" height="15" fill="#857878"/>
<rect x="582" y="223" width="3" height="3.5" fill="#ee1010"/>
<rect x="587" y="229.4" width="1" height="20.1" fill="#857878"/>
<rect x="586" y="230.8" width="3" height="9.4" fill="#2c6a1e"/>
<rect x="591" y="232.3" width="1" height="18.7" fill="#857878"/>
<rect x="590" y="233.7" width="3" height="5.8" fill="#ee1010"/>
<rect x="594" y="235.9" width="1" height="26.5" fill="#857878"/>
<rect x="593" y="239.5" width="3" height="15" fill="#ee1010"/>
<line x1="598" y1="236.5" x2="657" y2="236.5" stroke="#7d8fd0" stroke-width="1" stroke-dasharray="1,2.3"/>
<line x1="598" y1="240.5" x2="657" y2="240.5" stroke="#999" stroke-width="1" stroke-dasharray="1,2.3"/>
<line x1="600" y1="256" x2="650" y2="306" stroke="#3b5cae" stroke-width="2.8"/>
<polygon points="654,310.5 642.5,306.5 650.5,298" fill="#3b5cae"/>
<polygon points="658.1,172.2 663.1,166.2 711.1,166.2 711.1,178.2 663.1,178.2" fill="#dcdce4"/>
<polygon points="657.5,171.3 662.5,165.3 710.5,165.3 710.5,177.3 662.5,177.3" fill="#ffffff"/>
<text x="665.2" y="174.4" style="font-family:'DejaVu Sans','Liberation Sans',sans-serif;font-size:9.2px" fill="#88ba68">82.20</text>
<polygon points="658.1,188.7 663.1,182.7 711.1,182.7 711.1,194.7 663.1,194.7" fill="#dcdce4"/>
<polygon points="657.5,187.8 662.5,181.8 710.5,181.8 710.5,193.8 662.5,193.8" fill="#ffffff"/>
<text x="665.2" y="190.9" style="font-family:'DejaVu Sans','Liberation Sans',sans-serif;font-size:9.2px" fill="#88ba68">80.30</text>
<polygon points="657.5,215.4 662.5,209.1 710.5,209.1 710.5,221.7 662.5,221.7" fill="#2f62d6"/>
<text x="665.2" y="218.5" style="font-family:'DejaVu Sans','Liberation Sans',sans-serif;font-size:9.2px" fill="#ffffff">77.20</text>
<polygon points="657.5,241.3 662.5,236.3 710.5,236.3 710.5,246.3 662.5,246.3" fill="#2e5a1c"/>
<polygon points="657.5,237.2 662.5,232.6 710.5,232.6 710.5,241.8 662.5,241.8" fill="#ffffff"/>
<text x="665.2" y="240.3" style="font-family:'DejaVu Sans','Liberation Sans',sans-serif;font-size:9.2px" fill="#3560cf">74.81</text>
<polygon points="657.5,294.7 662.5,288.1 710.5,288.1 710.5,301.3 662.5,301.3" fill="#f50a0a"/>
<text x="665.2" y="297.8" style="font-family:'DejaVu Sans','Liberation Sans',sans-serif;font-size:9.2px" fill="#ffffff">68.30</text>
<polygon points="657.5,309.9 662.5,303.3 710.5,303.3 710.5,316.4 662.5,316.4" fill="#f50a0a"/>
<text x="665.2" y="313" style="font-family:'DejaVu Sans','Liberation Sans',sans-serif;font-size:9.2px" fill="#ffffff">66.60</text>
<line x1="9" y1="351.4" x2="657" y2="351.4" stroke="#c9c4cc" stroke-width="1" stroke-dasharray="1,2.5"/>
<line x1="9" y1="366.9" x2="657" y2="366.9" stroke="#c9c4cc" stroke-width="1" stroke-dasharray="1,2.5"/>
<line x1="9" y1="382.4" x2="657" y2="382.4" stroke="#c9c4cc" stroke-width="1" stroke-dasharray="1,2.5"/>
<line x1="597" y1="369.3" x2="657" y2="369.3" stroke="#7d8fd0" stroke-width="1" stroke-dasharray="1,2.5"/>
<path d="M12.2,362.1 C13.5,362 16.8,361.3 19.8,361.4 C22.9,361.5 27.2,361.9 30.5,362.9 C33.8,363.9 36.6,366 39.7,367.5 C42.8,369 46.4,371 48.9,372.1 C51.4,373.2 52.5,374.1 55,374.4 C57.5,374.7 60.5,374.4 64.1,373.9 C67.6,373.4 72.7,372.1 76.3,371.3 C79.9,370.5 82.4,369.7 85.5,369.3 C88.6,368.9 91.7,368.6 94.7,368.7 C97.8,368.8 101.2,369.6 103.8,370.2 C106.3,370.8 107.3,371.5 110,372.1 C112.7,372.7 116.7,373.2 120,374 C123.3,374.8 127,376.3 130,377 C133.1,377.7 135.2,378.4 138.3,378.3 C141.4,378.2 144.7,377.5 148.3,376.7 C151.9,375.9 156.7,374.4 160,373.3 C163.3,372.2 165.5,370.9 168.3,370.3 C171.1,369.7 173.9,369.8 176.7,369.7 C179.5,369.6 182.2,369.7 185,370 C187.8,370.3 190.8,371.4 193.3,371.7 C195.8,372 197.2,372.3 200,372 C202.8,371.7 206.7,370.4 210,369.7 C213.3,369 216.9,368.4 220,367.8 C223.1,367.2 225.5,366.5 228.3,365.8 C231.1,365.1 234.5,364 236.7,363.8 C238.9,363.6 239.5,364.1 241.7,364.7 C243.9,365.3 247.2,366.5 250,367.5 C252.8,368.5 255.5,369.4 258.3,370.8 C261.1,372.2 263.9,374.3 266.7,375.8 C269.5,377.3 272.2,378.7 275,380 C277.8,381.3 280.8,382.8 283.3,383.7 C285.8,384.6 287.2,385.1 290,385.3 C292.8,385.5 296.7,385.2 300,384.7 C303.3,384.2 306.7,383.2 310,382.5 C313.3,381.8 316.9,381.1 320,380.5 C323.1,379.9 325,379.9 328.3,378.8 C331.6,377.8 336.4,375.8 340,374.2 C343.6,372.6 346.7,370.7 350,369.2 C353.3,367.7 356.7,365.6 360,365.3 C363.3,365 366.7,366.6 370,367.5 C373.3,368.4 376.7,370 380,370.8 C383.3,371.6 386.7,372.1 390,372.5 C393.3,372.9 396.7,373.1 400,373.3 C403.3,373.5 406.7,373.8 410,373.7 C413.3,373.6 416.7,373.5 420,372.5 C423.3,371.5 426.7,369.4 430,367.5 C433.3,365.6 437.2,362.8 440,361 C442.8,359.2 444.2,357.8 446.7,356.7 C449.2,355.6 452.2,354.3 455,354.2 C457.8,354.1 460.5,355 463.3,355.8 C466.1,356.6 468.9,358.2 471.7,359.2 C474.5,360.2 477.2,361 480,361.7 C482.8,362.4 485.8,362.9 488.3,363.3 C490.8,363.7 492.5,364.5 495,364.2 C497.5,363.9 500.5,362.7 503.3,361.7 C506.1,360.7 508.9,359 511.7,358 C514.5,357 517.5,356.2 520,355.8 C522.5,355.4 524.2,355.4 526.7,355.8 C529.2,356.2 532.2,357 535,358 C537.8,359 540.5,360.2 543.3,361.7 C546.1,363.1 548.9,365.3 551.7,366.7 C554.5,368.1 557,369 560,370 C563,371 567,372.5 570,372.8 C573,373.1 575.5,372.3 578.3,371.7 C581.1,371.1 583.9,369.8 586.7,369.2 C589.5,368.6 593.6,368.2 595,368" fill="none" stroke="#f45a5a" stroke-width="1.1"/>
<path d="M12.5,357.5 C12.9,358.2 13.8,360.4 15,361.7 C16.2,362.9 18.3,363.6 20,365 C21.7,366.4 23.3,369 25,370 C26.7,371 28.6,370.2 30,370.8 C31.4,371.4 32,372.2 33.3,373.3 C34.5,374.4 35.8,377.1 37.5,377.5 C39.2,377.9 41.5,375.7 43.3,375.8 C45.1,375.9 46.5,378.1 48.3,378 C50.1,377.9 52.5,377 54.2,375 C55.9,373 56.8,367.5 58.3,365.8 C59.8,364.1 61.3,364.9 63.3,365 C65.2,365.1 68,365.5 70,366.3 C72,367.1 73.3,368.9 75,370 C76.7,371.1 78.3,372.7 80,373 C81.7,373.3 83.3,372.2 85,371.7 C86.7,371.2 88.5,370.4 90,370 C91.5,369.6 92.8,369.8 94.2,369.2 C95.6,368.6 97,366.7 98.3,366.7 C99.5,366.7 100.3,367.4 101.7,369.2 C103.1,371 105.2,375.8 106.7,377.5 C108.2,379.2 109.4,379.2 110.8,379.2 C112.2,379.2 113.5,377.5 115,377.5 C116.5,377.5 118,378.6 120,379.2 C122,379.8 124.8,381.6 126.7,381.3 C128.7,381 130,378.6 131.7,377.5 C133.4,376.4 134.8,375.8 136.7,375 C138.6,374.2 141.4,373.8 143.3,372.5 C145.2,371.2 146.6,368.2 148.3,367.5 C150,366.8 151.4,368 153.3,368.3 C155.2,368.6 157.8,368.9 160,369.2 C162.2,369.5 164.5,369.9 166.7,370.3 C168.9,370.7 171.1,371.5 173.3,371.7 C175.5,371.9 178.1,372 180,371.7 C181.9,371.4 183.6,369.9 185,370 C186.4,370.1 187.1,371.5 188.3,372.5 C189.6,373.5 191.1,375.7 192.5,375.8 C193.9,375.9 195.2,374.8 196.7,373.3 C198.2,371.8 200,368.5 201.7,366.7 C203.4,364.9 205,363.2 206.7,362.5 C208.4,361.8 210.2,362.6 211.7,362.5 C213.2,362.4 214.4,361.1 215.8,361.7 C217.2,362.3 218.2,365.8 220,366.3 C221.8,366.8 224.5,364.8 226.7,364.7 C228.9,364.6 231.4,366 233.3,365.8 C235.2,365.6 237.1,363.4 238.3,363.3 C239.6,363.2 239.8,363.5 240.8,365 C241.8,366.5 242.7,371 244.2,372.5 C245.7,374 247.9,373.4 250,374.2 C252.1,375 254.5,376 256.7,377.5 C258.9,379 261.1,381.5 263.3,383.3 C265.5,385.1 268.1,388.4 270,388.3 C271.9,388.2 273.3,383.4 275,383 C276.7,382.6 278.1,385.1 280,385.8 C281.9,386.6 284.8,387.8 286.7,387.5 C288.6,387.2 290.3,385.5 291.7,384.2 C293.1,382.9 293.3,380.4 295,379.7 C296.7,379 299.8,380.2 301.7,380 C303.6,379.8 304.8,378.4 306.7,378.3 C308.6,378.2 311.4,378.8 313.3,379.2 C315.2,379.6 316.4,380.9 318.3,380.8 C320.2,380.7 323.1,379.8 325,378.3 C326.9,376.8 328.6,373.2 330,372 C331.4,370.8 332.2,372 333.3,370.8 C334.4,369.6 335.4,366.8 336.7,365 C337.9,363.2 339.1,360.9 340.8,360.3 C342.5,359.7 344.9,360.9 346.7,361.3 C348.5,361.7 350.3,361.9 351.7,362.5 C353.1,363.1 353.8,363.9 355,365 C356.2,366.1 357.8,367.4 359.2,369.2 C360.6,371 361.9,374.4 363.3,375.8 C364.7,377.2 366.1,377.1 367.5,377.5 C368.9,377.9 370.2,378.8 371.7,378 C373.2,377.2 375.3,373.6 376.7,372.5 C378.1,371.4 378.8,372.8 380,371.7 C381.2,370.6 382.8,366.5 384.2,365.8 C385.6,365.1 386.8,366.5 388.3,367.5 C389.8,368.5 391.6,370 393.3,371.7 C395,373.4 396.6,376.2 398.3,377.5 C400,378.8 401.6,379.6 403.3,379.7 C405,379.8 406.6,379.4 408.3,378.3 C410,377.2 411.9,375.2 413.3,373.3 C414.7,371.4 415.4,368.9 416.7,366.7 C417.9,364.5 419.4,361.7 420.8,360 C422.2,358.3 423.8,357.1 425,356.7 C426.2,356.3 427.2,357.9 428.3,357.5 C429.4,357.1 430.3,354.9 431.7,354.2 C433.1,353.5 435,353.6 436.7,353.3 C438.4,353 440,352.2 441.7,352.5 C443.4,352.8 445.3,354.4 446.7,355 C448.1,355.6 448.8,356.2 450,355.8 C451.2,355.4 452.8,352.4 454.2,352.5 C455.6,352.6 457.1,355.3 458.3,356.7 C459.6,358.1 460.3,359.7 461.7,360.8 C463.1,361.9 465,362.3 466.7,363.3 C468.4,364.3 470.3,365.9 471.7,366.7 C473.1,367.5 473.9,367.5 475,368.3 C476.1,369.1 477.2,372.2 478.3,371.7 C479.4,371.1 480.4,366.7 481.7,365 C482.9,363.3 484.4,362 485.8,361.7 C487.2,361.4 488.5,363.7 490,363.3 C491.5,362.9 493.6,360.4 495,359.2 C496.4,358 497.2,356.9 498.3,356.3 C499.4,355.7 500.6,356.4 501.7,355.8 C502.8,355.2 503.6,352.8 505,352.5 C506.4,352.2 508.3,354.1 510,354.2 C511.7,354.3 513.2,353.3 515,353 C516.8,352.7 519.3,351.2 520.8,352.5 C522.3,353.8 522.7,359 524.2,360.8 C525.7,362.6 527.9,362.6 530,363.3 C532.1,364 534.9,363.8 536.7,365 C538.5,366.2 538.9,369.8 540.8,370.8 C542.7,371.8 546.3,369.8 548.3,371 C550.2,372.2 551.1,378.1 552.5,378.3 C553.9,378.6 555.2,373.3 556.7,372.5 C558.2,371.7 559.8,372.9 561.7,373.3 C563.6,373.7 566.6,375.6 568.3,375 C570,374.4 570.5,372.2 571.7,370 C573,367.8 574.4,363.1 575.8,362 C577.2,360.9 578.5,362.9 580,363.3 C581.5,363.7 583.3,363.6 585,364.2 C586.7,364.8 588.3,365.2 590,366.7 C591.7,368.2 594.2,372.2 595,373.3" fill="none" stroke="#b0b8e2" stroke-width="1.1"/>
<text x="665" y="354.5" style="font-family:'DejaVu Sans','Liberation Sans',sans-serif;font-size:9.5px" fill="#777">70</text>
<text x="665" y="385.6" style="font-family:'DejaVu Sans','Liberation Sans',sans-serif;font-size:9.5px" fill="#777">30</text>
<text x="665" y="370.4" style="font-family:'DejaVu Sans','Liberation Sans',sans-serif;font-size:9.5px" fill="#777">50</text>
<polygon points="658.1,370 663.1,364.4 711.1,364.4 711.1,375.6 663.1,375.6" fill="#dcdce4"/>
<polygon points="657.5,369.1 662.5,363.5 710.5,363.5 710.5,374.7 662.5,374.7" fill="#ffffff"/>
<text x="665.2" y="372" style="font-family:'DejaVu Sans','Liberation Sans',sans-serif;font-size:9.2px" fill="#3560cf">46.93</text>
<line x1="597" y1="435.3" x2="657" y2="435.3" stroke="#8d9bd6" stroke-width="1" stroke-dasharray="1,2.5"/>
<path d="M12.5,430.3 C13.5,429.8 16.2,428.2 18.3,427.5 C20.4,426.8 22.8,426.2 25,426.3 C27.2,426.4 29.5,427.1 31.7,428 C33.9,428.9 36.1,430.2 38.3,431.7 C40.5,433.1 42.8,435.1 45,436.7 C47.2,438.3 49.5,440.1 51.7,441.3 C53.9,442.5 55.8,443.3 58.3,443.7 C60.8,444.1 63.9,443.8 66.7,443.7 C69.5,443.6 72.2,443.1 75,443 C77.8,442.9 80.5,443.2 83.3,443.3 C86.1,443.4 88.9,443.8 91.7,443.7 C94.5,443.6 97.5,443.1 100,443 C102.5,442.9 104.5,442.9 106.7,443.3 C108.9,443.7 111.4,444.7 113.3,445.3 C115.2,445.9 116.1,445.8 118.3,446.7 C120.5,447.6 123.9,449.6 126.7,450.8 C129.5,452 132.2,453.1 135,453.7 C137.8,454.3 140.5,454.5 143.3,454.2 C146.1,453.9 148.9,452.5 151.7,451.7 C154.5,450.9 156.9,450 160,449.2 C163.1,448.4 166.7,447.4 170,446.7 C173.3,446 176.7,445.5 180,445 C183.3,444.5 186.7,444.1 190,443.7 C193.3,443.3 196.7,443.1 200,442.5 C203.3,441.9 206.7,441 210,440.3 C213.3,439.6 216.7,438.9 220,438.2 C223.3,437.5 226.7,436.9 230,436.3 C233.3,435.7 236.9,434.9 240,434.7 C243.1,434.5 245.5,434.6 248.3,435 C251.1,435.4 253.6,436.1 256.7,437 C259.8,437.9 263.4,439 266.7,440.3 C270,441.6 273.4,443.4 276.7,445 C280,446.6 283.4,448.3 286.7,449.7 C290,451.1 293.4,452.4 296.7,453.3 C300,454.2 303.4,454.8 306.7,455 C310,455.2 313.4,455 316.7,454.7 C320,454.4 322.8,454.2 326.7,453.3 C330.6,452.4 336.1,450.6 340,449.2 C343.9,447.8 346.7,446.1 350,444.7 C353.3,443.3 356.7,441.6 360,440.8 C363.3,440 366.7,440.1 370,440 C373.3,439.9 376.7,440.1 380,440 C383.3,439.9 386.7,439.7 390,439.7 C393.3,439.7 396.7,439.7 400,440 C403.3,440.3 406.9,441 410,441.3 C413.1,441.6 415.5,442.1 418.3,441.7 C421.1,441.3 423.6,440.4 426.7,439.2 C429.8,437.9 433.4,435.9 436.7,434.2 C440,432.5 443.4,430.9 446.7,429.2 C450,427.4 453.6,424.8 456.7,423.7 C459.8,422.6 462.2,422.6 465,422.5 C467.8,422.4 470.5,422.9 473.3,423.3 C476.1,423.7 478.9,424.5 481.7,425 C484.5,425.5 487.2,426.2 490,426.3 C492.8,426.4 495.5,426.3 498.3,425.8 C501.1,425.3 503.9,424.1 506.7,423.3 C509.5,422.6 512.2,421.9 515,421.3 C517.8,420.7 520.8,420.1 523.3,419.7 C525.8,419.3 527.5,419.1 530,419.2 C532.5,419.3 535.5,419.6 538.3,420.3 C541.1,421 543.9,422.2 546.7,423.3 C549.5,424.4 552.8,425.7 555,426.7 C557.2,427.7 557.5,428.3 560,429.5 C562.5,430.7 567,432.8 570,433.7 C573,434.6 575.5,434.8 578.3,435 C581.1,435.2 583.9,435 586.7,435 C589.5,435 593.6,435 595,435" fill="none" stroke="#96ca74" stroke-width="1.3"/>
<path d="M12.5,419.7 C13.5,419.9 16.5,420 18.3,420.8 C20.1,421.6 21.6,423.4 23.3,424.7 C25,425.9 26.6,426.9 28.3,428.3 C30,429.7 31.6,431.4 33.3,433.3 C35,435.2 36.6,438.2 38.3,440 C40,441.8 41.6,442.8 43.3,444.2 C45,445.6 46.6,447.1 48.3,448.3 C50,449.6 51.6,451.7 53.3,451.7 C55,451.7 56.6,449.4 58.3,448.3 C60,447.2 61.3,446 63.3,445 C65.2,444 67.8,442.9 70,442.5 C72.2,442.1 74.5,442.4 76.7,442.5 C78.9,442.6 81.1,443 83.3,443.3 C85.5,443.6 87.8,444.3 90,444.2 C92.2,444.1 94.8,442.9 96.7,442.5 C98.7,442.1 100,441.6 101.7,442 C103.4,442.4 104.8,443.8 106.7,445 C108.6,446.2 111.6,448.5 113.3,449.5 C115,450.5 115,449.9 116.7,450.8 C118.4,451.7 121.1,453.8 123.3,455 C125.5,456.2 127.8,457.9 130,458.3 C132.2,458.7 134.5,458.2 136.7,457.5 C138.9,456.8 141.1,455.6 143.3,454.2 C145.5,452.8 147.5,450.6 150,449.2 C152.5,447.8 155.2,446.8 158.3,445.8 C161.4,444.8 165,443.9 168.3,443.3 C171.6,442.7 175.2,442.3 178.3,442 C181.4,441.7 184.2,441.2 186.7,441.3 C189.2,441.4 191.1,442.4 193.3,442.5 C195.5,442.6 197.8,442.4 200,441.7 C202.2,440.9 204.2,439.1 206.7,438 C209.2,436.9 212.2,435.7 215,435 C217.8,434.3 220.8,433.9 223.3,433.7 C225.8,433.4 227.5,433.8 230,433.5 C232.5,433.2 236.1,432.1 238.3,432.2 C240.5,432.3 241.1,433.3 243.3,434.2 C245.5,435.1 248.9,436.1 251.7,437.5 C254.5,438.9 257.2,440.6 260,442.5 C262.8,444.4 265.5,446.9 268.3,448.7 C271.1,450.4 273.9,451.6 276.7,453 C279.5,454.4 282.5,456.1 285,457 C287.5,457.9 289.5,458.6 291.7,458.7 C293.9,458.8 295.8,458.1 298.3,457.5 C300.8,456.9 303.9,455.9 306.7,455.3 C309.5,454.8 312.2,454.7 315,454.2 C317.8,453.7 320.8,453.2 323.3,452.5 C325.8,451.8 327.8,451.4 330,450 C332.2,448.6 334.5,446 336.7,444.2 C338.9,442.4 341.1,440.5 343.3,439.2 C345.5,437.9 347.8,436.9 350,436.3 C352.2,435.7 354.8,435.5 356.7,435.5 C358.6,435.5 360,435.7 361.7,436.3 C363.4,436.9 364.8,438.4 366.7,439.2 C368.6,439.9 371.1,440.5 373.3,440.8 C375.5,441.1 377.8,441.1 380,440.8 C382.2,440.5 384.5,439.5 386.7,439.2 C388.9,438.9 391.1,438.8 393.3,439.2 C395.5,439.6 398.1,440.9 400,441.7 C401.9,442.4 403.3,443.2 405,443.7 C406.7,444.2 408.3,444.8 410,444.7 C411.7,444.6 413.3,444.2 415,443.3 C416.7,442.4 418.1,440.7 420,439.2 C421.9,437.7 424.5,436 426.7,434.2 C428.9,432.4 431.1,430.1 433.3,428.3 C435.5,426.5 437.5,424.6 440,423.3 C442.5,422.1 445.5,421.6 448.3,420.8 C451.1,420 453.9,418.7 456.7,418.7 C459.5,418.7 462.2,419.8 465,420.8 C467.8,421.9 470.8,423.8 473.3,425 C475.8,426.2 477.5,427.5 480,428 C482.5,428.5 485.8,428.2 488.3,428 C490.8,427.8 492.8,427.6 495,426.7 C497.2,425.8 499.2,423.9 501.7,422.5 C504.2,421.1 506.9,419.3 510,418.3 C513,417.3 517.2,416.4 520,416.3 C522.8,416.2 524.5,417.2 526.7,418 C528.9,418.8 531.1,419.6 533.3,420.8 C535.5,422 537.8,423.8 540,425 C542.2,426.2 544.5,426.9 546.7,428.3 C548.9,429.8 551.1,432.2 553.3,433.7 C555.5,435.1 557.5,436 560,437 C562.5,438 565.8,439.6 568.3,439.7 C570.8,439.8 572.8,438.3 575,437.5 C577.2,436.7 579.5,435.6 581.7,435 C583.9,434.4 586.1,434.1 588.3,434.2 C590.5,434.2 593.9,435.1 595,435.3" fill="none" stroke="#b2bae4" stroke-width="1.1"/>
<polygon points="658.1,436.5 663.1,431.2 711.1,431.2 711.1,441.8 663.1,441.8" fill="#dcdce4"/>
<polygon points="657.5,435.6 662.5,430.3 710.5,430.3 710.5,440.9 662.5,440.9" fill="#ffffff"/>
<text x="665.2" y="438.5" style="font-family:'DejaVu Sans','Liberation Sans',sans-serif;font-size:9.2px" fill="#3560cf">-0.12</text>
<text x="665" y="459" style="font-family:'DejaVu Sans','Liberation Sans',sans-serif;font-size:9.5px" fill="#777">-2</text>
<rect x="8.5" y="460" width="649" height="1.2" fill="#aaa3b5"/>
<rect x="8.5" y="460" width="1.2" height="5.5" fill="#aaa3b5"/>
<rect x="656.5" y="460" width="1.2" height="5.5" fill="#aaa3b5"/>
<text x="44" y="475.5" text-anchor="middle" style="font-family:'DejaVu Sans','Liberation Sans',sans-serif;font-size:9.3px" fill="#858085">Apr</text>
<text x="117.8" y="475.5" text-anchor="middle" style="font-family:'DejaVu Sans','Liberation Sans',sans-serif;font-size:9.3px" fill="#858085">May</text>
<text x="199.7" y="475.5" text-anchor="middle" style="font-family:'DejaVu Sans','Liberation Sans',sans-serif;font-size:9.3px" fill="#858085">Jun</text>
<text x="278" y="475.5" text-anchor="middle" style="font-family:'DejaVu Sans','Liberation Sans',sans-serif;font-size:9.3px" fill="#858085">Jul</text>
<text x="360.7" y="475.5" text-anchor="middle" style="font-family:'DejaVu Sans','Liberation Sans',sans-serif;font-size:9.3px" fill="#858085">Aug</text>
<text x="451" y="475.5" text-anchor="middle" style="font-family:'DejaVu Sans','Liberation Sans',sans-serif;font-size:9.3px" fill="#858085">Sep</text>
<text x="524.8" y="475.5" text-anchor="middle" style="font-family:'DejaVu Sans','Liberation Sans',sans-serif;font-size:9.3px" fill="#858085">Oct</text>
<text x="9.7" y="20.5" style="font-family:'DejaVu Sans','Liberation Sans',sans-serif;font-size:11.8px;font-weight:bold;letter-spacing:0.25px" fill="#46463e">2318</text>
<rect x="50" y="6" width="39" height="19.5" fill="#d8dbe5"/>
<text x="55.2" y="19.6" style="font-family:'DejaVu Sans','Liberation Sans',sans-serif;font-size:10px" fill="#484848">DAILY</text>
<text x="95.6" y="19.7" style="font-family:'DejaVu Sans','Liberation Sans',sans-serif;font-size:10.5px" fill="#595555">19:22:29 CET</text>
<rect x="11.4" y="46.9" width="10.5" height="3.6" fill="#f44a4a"/>
<text x="28.2" y="51.9" style="font-family:'DejaVu Sans','Liberation Sans',sans-serif;font-size:8.3px" fill="#777">MA 20 + Bollinger Bands</text>
<rect x="142" y="46.9" width="10.5" height="3.6" fill="#2e58c8"/>
<text x="158.6" y="51.9" style="font-family:'DejaVu Sans','Liberation Sans',sans-serif;font-size:8.3px" fill="#777">MA 50</text>
<text x="712.4" y="51.9" text-anchor="end" style="font-family:'DejaVu Sans','Liberation Sans',sans-serif;font-size:8.3px" fill="#8a8a8a">Research © 2018 Trading Central</text>
<rect x="11.7" y="331.3" width="10.5" height="3.6" fill="#4a78e0"/>
<text x="28" y="336.3" style="font-family:'DejaVu Sans','Liberation Sans',sans-serif;font-size:8.3px" fill="#777">RSI</text>
<rect x="52.5" y="330.9" width="10.5" height="3.6" fill="#f01414"/>
<text x="68.8" y="335.9" style="font-family:'DejaVu Sans','Liberation Sans',sans-serif;font-size:8.3px" fill="#777">9MA</text>
<rect x="11.7" y="404.2" width="10.5" height="3.6" fill="#4a78e0"/>
<text x="28.4" y="409.2" style="font-family:'DejaVu Sans','Liberation Sans',sans-serif;font-size:8.3px" fill="#777">MACD</text>
<rect x="65.2" y="403.5" width="10.2" height="3.8" fill="#1f5c12" stroke="#9ad07a" stroke-width="0.8"/>
<text x="81.4" y="409.2" style="font-family:'DejaVu Sans','Liberation Sans',sans-serif;font-size:8.3px" fill="#777">MACD Signal</text></svg>
</body></html>
